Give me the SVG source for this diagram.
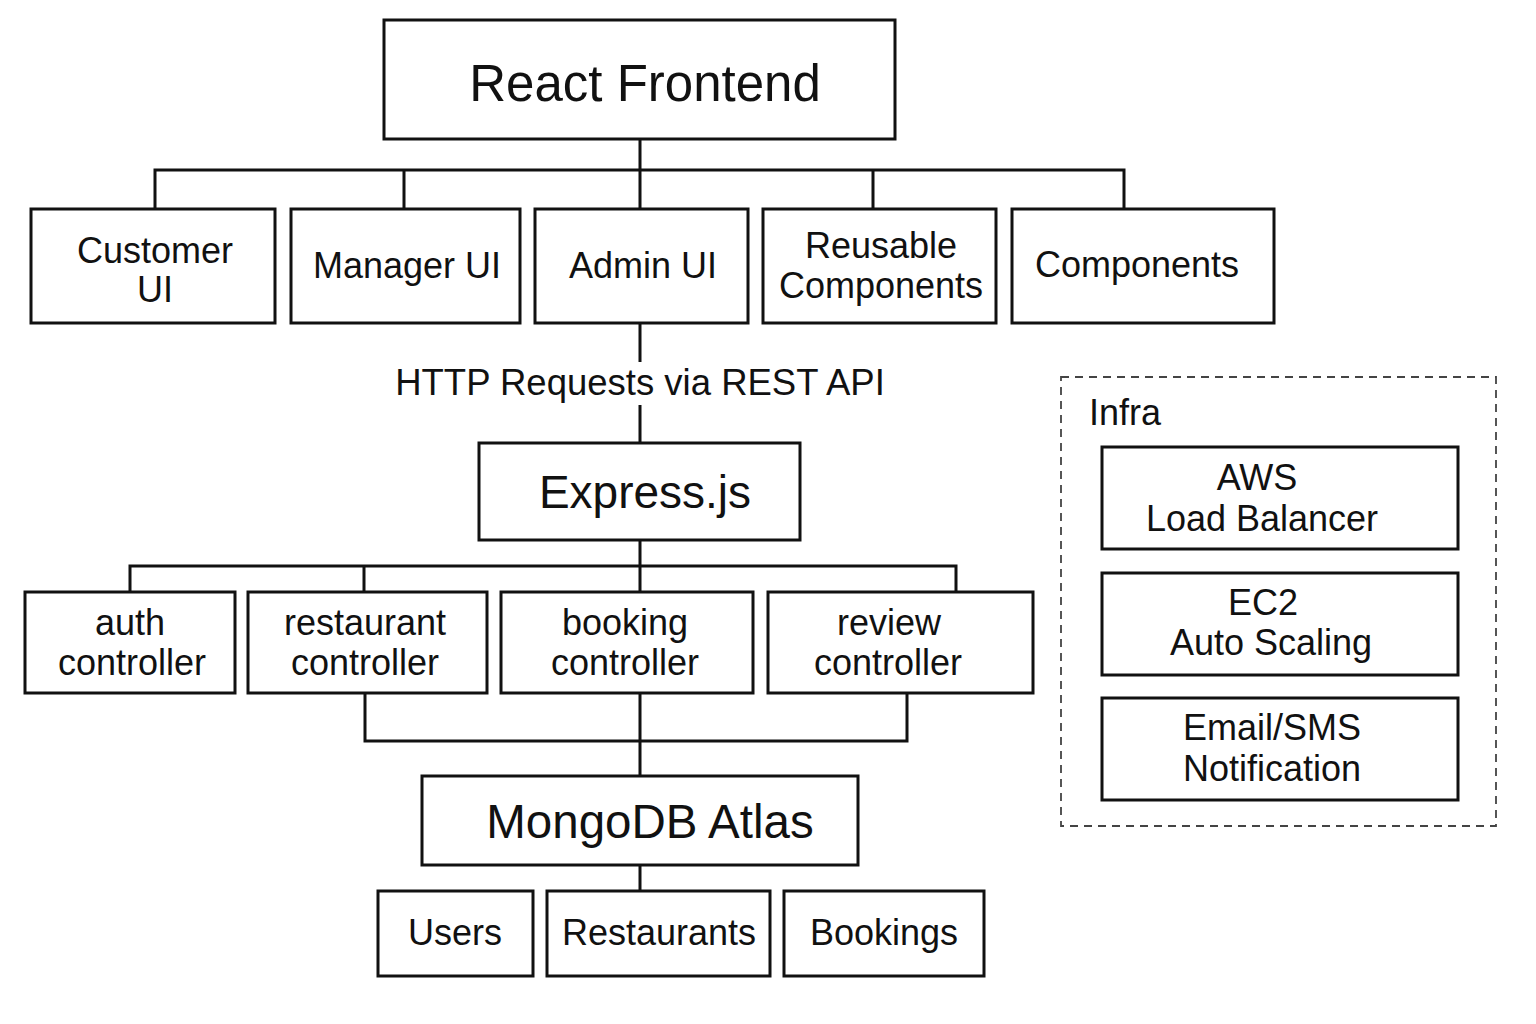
<svg xmlns="http://www.w3.org/2000/svg" width="1536" height="1024" viewBox="0 0 1536 1024">
<style>
.box{fill:#fff;stroke:#111;stroke-width:3}
.ln{fill:none;stroke:#111;stroke-width:3}
.t{font-family:"Liberation Sans",Arial,sans-serif;font-size:36px;fill:#111;text-anchor:middle}
.big{font-size:51px}
.mid{font-size:46px}
.mdb{font-size:47.5px}
</style>
<rect width="1536" height="1024" fill="#fff"/>
<g id="connectors">
<path class="ln" d="M640 140V170M155 209V170H1124V209M404 170V209M640 170V209M873 170V209"/>
<path class="ln" d="M640 323V362M640 405V443"/>
<path class="ln" d="M640 540V566M130 592V566H956V592M364 566V592M640 566V592"/>
<path class="ln" d="M365 693V741H907V693M640 693V776"/>
<path class="ln" d="M640 865V891"/>
</g>
<g id="react-frontend"><rect class="box" x="384" y="20" width="511" height="119"/><text class="t big" x="645" y="101">React Frontend</text></g>
<g id="customer-ui"><rect class="box" x="31" y="209" width="244" height="114"/><text class="t" x="155" y="263">Customer</text><text class="t" x="155" y="302">UI</text></g>
<g id="manager-ui"><rect class="box" x="291" y="209" width="229" height="114"/><text class="t" x="407" y="278">Manager UI</text></g>
<g id="admin-ui"><rect class="box" x="535" y="209" width="213" height="114"/><text class="t" x="643" y="278">Admin UI</text></g>
<g id="reusable-components"><rect class="box" x="763" y="209" width="233" height="114"/><text class="t" x="881" y="258">Reusable</text><text class="t" x="881" y="298">Components</text></g>
<g id="components"><rect class="box" x="1012" y="209" width="262" height="114"/><text class="t" x="1137" y="277">Components</text></g>
<g id="http-label"><text class="t" x="640" y="395" style="font-size:36.5px">HTTP Requests via REST API</text></g>
<g id="express"><rect class="box" x="479" y="443" width="321" height="97"/><text class="t mid" x="645" y="508">Express.js</text></g>
<g id="auth-controller"><rect class="box" x="25" y="592" width="210" height="101"/><text class="t" x="130" y="635">auth</text><text class="t" x="132" y="675">controller</text></g>
<g id="restaurant-controller"><rect class="box" x="248" y="592" width="239" height="101"/><text class="t" x="365" y="635">restaurant</text><text class="t" x="365" y="675">controller</text></g>
<g id="booking-controller"><rect class="box" x="501" y="592" width="252" height="101"/><text class="t" x="625" y="635">booking</text><text class="t" x="625" y="675">controller</text></g>
<g id="review-controller"><rect class="box" x="768" y="592" width="265" height="101"/><text class="t" x="889" y="635">review</text><text class="t" x="888" y="675">controller</text></g>
<g id="mongodb"><rect class="box" x="422" y="776" width="436" height="89"/><text class="t mdb" x="650" y="838">MongoDB Atlas</text></g>
<g id="users"><rect class="box" x="378" y="891" width="155" height="85"/><text class="t" x="455" y="945">Users</text></g>
<g id="restaurants"><rect class="box" x="547" y="891" width="223" height="85"/><text class="t" x="659" y="945">Restaurants</text></g>
<g id="bookings"><rect class="box" x="784" y="891" width="200" height="85"/><text class="t" x="884" y="945">Bookings</text></g>
<g id="infra">
<rect x="1061" y="377" width="435" height="449" fill="none" stroke="#444" stroke-width="1.8" stroke-dasharray="8 6"/>
<text class="t" x="1089" y="425" style="text-anchor:start">Infra</text>
</g>
<g id="aws-lb"><rect class="box" x="1102" y="447" width="356" height="102"/><text class="t" x="1257" y="490">AWS</text><text class="t" x="1262" y="531">Load Balancer</text></g>
<g id="ec2"><rect class="box" x="1102" y="573" width="356" height="102"/><text class="t" x="1263" y="615">EC2</text><text class="t" x="1271" y="655">Auto Scaling</text></g>
<g id="notification"><rect class="box" x="1102" y="698" width="356" height="102"/><text class="t" x="1272" y="740">Email/SMS</text><text class="t" x="1272" y="781">Notification</text></g>
</svg>
